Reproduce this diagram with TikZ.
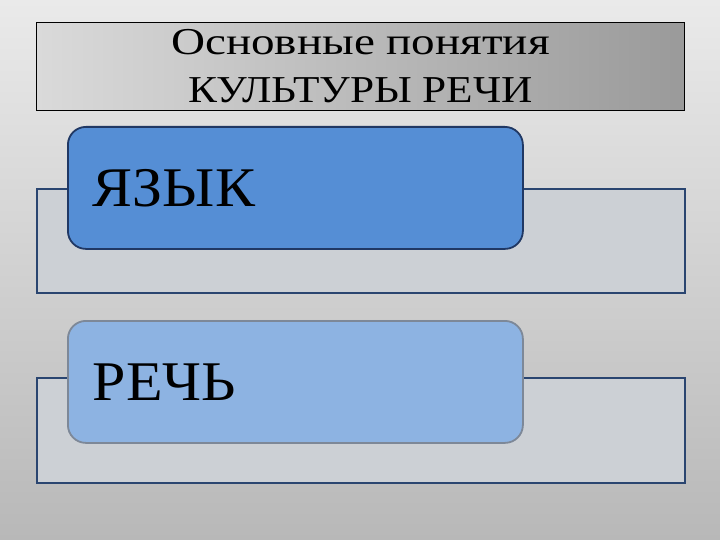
\documentclass[tikz,border=0pt]{standalone}
\usepackage{fontspec}
\setmainfont{Liberation Serif}
\newfontfamily\titleA[FakeStretch=1.24]{Liberation Serif}
\newfontfamily\titleB[FakeStretch=1.14]{Liberation Serif}
\newfontfamily\tagfont[FakeStretch=1.07]{Liberation Serif}
\definecolor{bgtop}{HTML}{EAEAEA}
\definecolor{bgbot}{HTML}{B8B8B8}
\definecolor{titleL}{HTML}{DADADA}
\definecolor{titleR}{HTML}{9A9A9A}
\definecolor{panelfill}{HTML}{CCD0D5}
\definecolor{panelline}{HTML}{2A4570}
\definecolor{darkblue}{HTML}{558ED5}
\definecolor{darkblueline}{HTML}{203864}
\definecolor{lightblue}{HTML}{8DB3E2}
\definecolor{lightblueline}{HTML}{7D8898}
\tikzset{
  panel/.style={draw=panelline, line width=2pt, fill=panelfill, anchor=north west, inner sep=0pt},
  tagbox/.style={rounded corners=18pt, line width=1.8pt, anchor=north west,
    minimum height=122pt, text width=405pt, inner xsep=25pt, inner ysep=0pt, align=left,
    font=\tagfont\fontsize{56}{60}\selectfont},
}
\begin{document}
\begin{tikzpicture}[x=1pt,y=-1pt]
\useasboundingbox (0,0) rectangle (720,540);
\shade[top color=bgtop, bottom color=bgbot] (0,0) rectangle (720,540);
\node[draw=black, line width=1.2pt, left color=titleL, right color=titleR, anchor=north west,
  minimum width=648pt, minimum height=88pt, inner sep=0pt, align=center,
  font=\fontsize{38}{48}\selectfont] (t) at (36,22) {{\titleA Основные понятия}\\{\titleB КУЛЬТУРЫ РЕЧИ}};
\node[panel, minimum width=648pt, minimum height=104pt] (r1) at (36,188) {};
\node[panel, minimum width=648pt, minimum height=105pt] (r2) at (36,377) {};
\node[tagbox, draw=darkblueline, fill=darkblue] (b1) at (67,126) {ЯЗЫК};
\node[tagbox, draw=lightblueline, fill=lightblue] (b2) at (67,320) {РЕЧЬ};
\end{tikzpicture}
\end{document}
